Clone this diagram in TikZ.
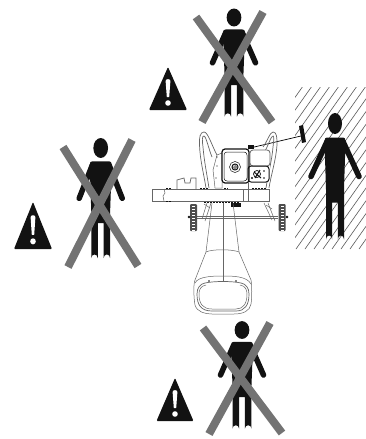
\documentclass[tikz,border=0pt]{standalone}
\definecolor{ink}{gray}{0.07}
\definecolor{xgray}{gray}{0.45}
\definecolor{thin}{gray}{0.4}
\tikzset{
  xbar/.style={draw=xgray,line width=8pt},
  limb/.style={draw=ink,line cap=round},
  mech/.style={draw=thin,line width=0.5pt},
  mechk/.style={draw=ink,line width=1.2pt,rounded corners=3pt},
  hatchline/.style={draw=black!65,line width=0.6pt}
}
\newcommand{\figperson}[5]{%
\begin{scope}[shift={(#1,#2)},xscale=#3,yscale=#4]
  \fill[ink] (0,0) ellipse (7 and 10.5);
  \fill[ink] (-8,14) -- (8,14) .. controls (10,14) and (10,15) .. (10.5,18) -- (9,66)
     -- (9,116) arc[start angle=0,end angle=-180,x radius=3.1,y radius=4] -- (2.8,79) -- (-2.8,79)
     -- (-2.8,116) arc[start angle=0,end angle=-180,x radius=3.1,y radius=4]
     -- (-9,66) -- (-10.5,18) .. controls (-10,15) and (-10,14) .. (-8,14) -- cycle;
  \draw[limb,line width=5.5pt] (-8,18) -- (-#5,53);
  \draw[limb,line width=5.5pt] (8,18) -- (#5,53);
\end{scope}}
\newcommand{\figwarn}[4]{% apex x, apex y, half-width, height
\begin{scope}[shift={(#1,#2)}]
  \fill[ink,rounded corners=1pt] (0,0) -- (#3,#4) -- (-#3,#4) -- cycle;
  \begin{scope}[yscale=#4/43]
  \fill[white] (-2.4,14) .. controls (-2.4,11.5) and (2.4,11.5) .. (2.4,14) -- (1.2,30) -- (-1.2,30) -- cycle;
  \fill[white] (0,36) circle (2.8);
  \end{scope}
\end{scope}}
\begin{document}
\begin{tikzpicture}[x=1pt,y=-1pt]
\useasboundingbox (0,0) rectangle (366,439);
\fill[white] (0,0) rectangle (366,439);
% hatched wall
\begin{scope}
  \clip (295,87) rectangle (366,249);
  \foreach \k in {0,9,...,216} {
    \draw[hatchline] (170+\k,249) -- (170+\k+120,79);
  }
\end{scope}
% large person
\figperson{335}{123.5}{1}{1}{24}
% paddle and sight line
\draw[black,line width=0.7pt] (250,148) -- (301,136);
\fill[ink] (299,126) -- (303,125) -- (306,142) -- (302,143) -- cycle;
% machine: handles
\draw[mech,line width=0.7pt] (217,155) .. controls (212,146) and (208,132) .. (204,132) .. controls (200,132) and (199,138) .. (199.5,145) .. controls (200,160) and (204,175) .. (206,188);
\draw[mech,line width=0.7pt] (212,157) .. controls (209,150) and (206,136) .. (204,136) .. controls (202,136) and (202,140) .. (203,147) .. controls (204,160) and (207,175) .. (209,188);
\draw[mech,line width=0.7pt] (263,147) .. controls (267,142) and (270,132) .. (273,132) .. controls (277,132) and (277,138) .. (277,145) .. controls (276,160) and (271,175) .. (269,188);
\draw[mech,line width=0.7pt] (265,151) .. controls (268,146) and (271,136) .. (273,136) .. controls (274,136) and (274,140) .. (273,147) .. controls (272,160) and (268,175) .. (266,188);
% machine: side plate
\draw[mech] (217,155) -- (222,153) -- (222,188) -- (215,188) -- (213,170) -- cycle;
\fill[ink] (217,157) circle (.7) (217,166) circle (.7) (216,178) circle (.7);
% machine: engine
\fill[white] (222,148) rectangle (249,183);
\draw[mechk] (222,149) rectangle (249,183);
\draw[draw=ink,line width=.5pt,rounded corners=3pt] (224,152) rectangle (247,181);
\draw[draw=ink,line width=.5pt] (235,167) circle (5.5);
\draw[draw=ink,line width=1pt] (235,167) circle (3);
\draw[draw=ink,line width=.5pt] (235,167) circle (1.4);
% machine: tank, cap and control box
\fill[white] (250,150) rectangle (270,182);
\draw[mech,line width=0.8pt,rounded corners=3pt] (250,150) rectangle (270,166);
\fill[ink] (248,145) rectangle (254,149);
\draw[mechk,line width=1pt] (248,166) rectangle (269,182);
\draw[draw=ink,line width=1pt] (254,172) -- (261,178) (260,170) -- (255,178);
\draw[draw=ink,line width=.7pt] (257,174) circle (3.5);
\fill[ink] (252,178) circle (1.2) (264,171) circle (.9) (264,178) circle (.9);
% beam
\draw[mech,line width=0.7pt] (177,189) -- (177,180) -- (184,178) -- (185,183) -- (190,183) -- (191,178) -- (196,178) -- (196,189);
\draw[mech,line width=0.7pt,fill=white] (152,189) rectangle (269,201);
\draw[mech] (164,189) -- (165,193) -- (163,196) -- (164,201);
\draw[mech] (243,189) -- (243,201) (248,183) -- (248,201);
\draw[draw=ink,line width=1pt,dash pattern=on 1.5pt off 1.5pt] (166,188.5) -- (172,188.5) (200,188.5) -- (208,188.5) (224,188) -- (228,188) (252,188) -- (266,188);
\draw[draw=ink,line width=1pt,dash pattern=on 1.5pt off 1.5pt] (166,201.5) -- (172,201.5) (204,202) -- (240,202);
% under-frame
\draw[mech] (207,203) -- (202,219) (211,203) -- (205,221) (264,203) -- (272,220) (268,203) -- (275,221);
\draw[mech] (204,204) -- (210,208) (266,205) -- (272,209);
\draw[mech,line width=0.7pt] (197,216) -- (278,216) (197,218) -- (278,218);
\fill[ink] (231,203) rectangle (241,207);
% wheels
\foreach \wx in {190,278.5} {
  \fill[ink!75,rounded corners=1pt] (\wx,204) rectangle (\wx+7,231);
  \foreach \wy in {206,209,...,230} \fill[white] (\wx+2,\wy) rectangle (\wx+5,\wy+1.2);
}
\fill[ink] (189,217) circle (1.4) (287,217) circle (1.4);
% column and body
\draw[mech] (212,203) -- (206,252) (233,203) -- (239,252);
\draw[mech] (223,203) -- (223,281);
\draw[mech] (206,252) .. controls (212,249) and (232,249) .. (239,252);
\draw[mech] (206,252) -- (195,280) .. controls (193,285) and (194,300) .. (195,305) .. controls (197,312) and (205,314) .. (212,314) -- (234,314) .. controls (243,314) and (250,311) .. (251,304) .. controls (252,298) and (252,285) .. (251,280) -- (239,252);
\draw[mech] (195,283) .. controls (198,276) and (215,276) .. (223,276) .. controls (232,276) and (247,276) .. (251,284);
\draw[mech,line width=0.7pt] (205,283) .. controls (200,284) and (197,288) .. (197,294) .. controls (197,305) and (201,311) .. (212,311) -- (236,311) .. controls (245,311) and (249,305) .. (249,294) .. controls (249,288) and (246,284) .. (241,283) .. controls (232,281) and (214,281) .. (205,283) -- cycle;
\draw[mech] (206,285) .. controls (201,286) and (199,289) .. (199,294) .. controls (199,304) and (203,309) .. (212,309) -- (236,309) .. controls (243,309) and (247,304) .. (247,294) .. controls (247,289) and (245,286) .. (240,285);
\fill[ink] (209,281) circle (.8) (236,281) circle (.8);
% top group
\figperson{234}{17.5}{1.05}{.855}{20.5}
\draw[xbar] (196,17) -- (272,122);
\draw[xbar] (263,12) -- (202,122);
\figwarn{168}{67}{19}{43}
% left group
\figperson{100.7}{148}{1.05}{.95}{20.5}
\draw[xbar] (63,147) -- (138,266);
\draw[xbar] (132,140) -- (68,267);
\figwarn{33}{202}{19}{47}
% bottom group
\figperson{242}{330}{1.05}{.85}{20.5}
\draw[xbar] (203,328) -- (282,433);
\draw[xbar] (270,323) -- (209,434);
\figwarn{175}{378}{18.5}{43}
\end{tikzpicture}
\end{document}
